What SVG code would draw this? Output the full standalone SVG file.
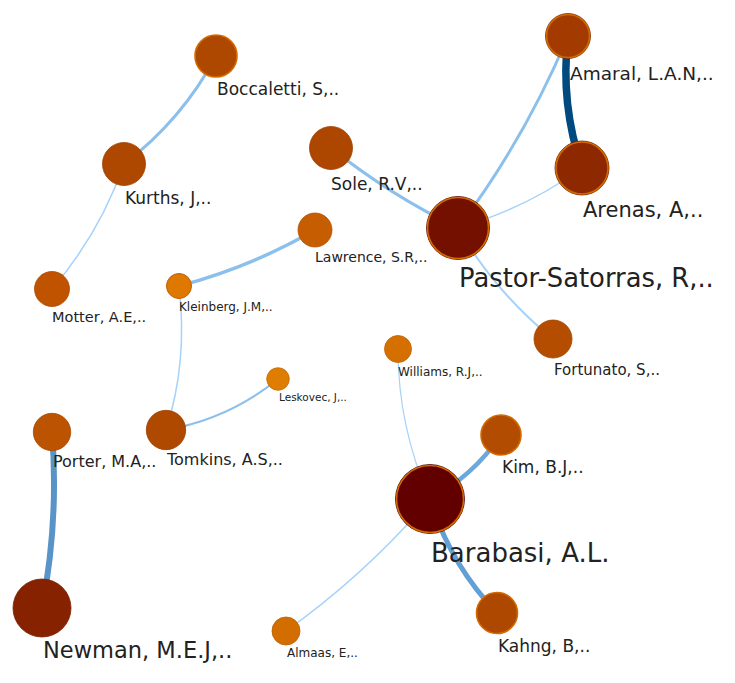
<svg xmlns="http://www.w3.org/2000/svg" width="735" height="683" viewBox="0 0 735 683">
<style>
.e{fill:none;stroke-linecap:round}
.l{stroke:#a6d2fa}
.m{stroke:#8cc0ec}
.n{stroke-width:0.8}
.r{stroke:#d26a00;stroke-width:1.6}
text{font-family:"DejaVu Sans","Liberation Sans",sans-serif;fill:#222}
</style>
<rect width="735" height="683" fill="#fff"/>
<g id="edges">
<path class="e m" stroke-width="3" d="M216,56 Q182,120 124,164"/>
<path class="e l" stroke-width="1.5" d="M124,164 Q100,233 52,289"/>
<path class="e m" stroke-width="3" d="M331,148 Q390,195 458,228"/>
<path class="e m" stroke-width="3.5" d="M315,230 Q251,267 179,286"/>
<path class="e l" stroke-width="1.5" d="M179,286 Q188,362 166,430"/>
<path class="e m" stroke-width="2.2" d="M166,430 Q229,419 278,379"/>
<path class="e m" stroke-width="3" d="M568,36 Q525,139 458,228"/>
<path class="e" stroke="#004a80" stroke-width="7.5" d="M568,36 Q560,104 582,168"/>
<path class="e l" stroke-width="1.5" d="M582,168 Q525,209 458,228"/>
<path class="e l" stroke-width="2" d="M458,228 Q495,292 553,339"/>
<path class="e l" stroke-width="1.2" d="M398,349 Q398,427 430,499"/>
<path class="e" stroke="#6aa8de" stroke-width="4.5" d="M430,499 Q473,476 501,435"/>
<path class="e" stroke="#629fd4" stroke-width="5" d="M430,499 Q450,564 497,613"/>
<path class="e l" stroke-width="1.5" d="M430,499 Q366,574 286,631"/>
<path class="e" stroke="#5894c8" stroke-width="6" d="M52,432 Q59,520 42,608"/>
</g>
<g id="Boccaletti"><circle cx="216" cy="56" r="21" fill="#ae4700" class="r"/><text x="217" y="95" font-size="17">Boccaletti, S,..</text></g>
<g id="Kurths"><circle cx="124" cy="164" r="21.5" fill="#ae4800" stroke="#a04000" class="n"/><text x="125" y="204" font-size="17">Kurths, J,..</text></g>
<g id="Sole"><circle cx="331" cy="148" r="21.5" fill="#ad4700" stroke="#a04000" class="n"/><text x="331" y="190" font-size="17">Sole, R.V,..</text></g>
<g id="Lawrence"><circle cx="315" cy="230" r="17" fill="#c65d00" stroke="#b85200" class="n"/><text x="315" y="262" font-size="14">Lawrence, S.R,..</text></g>
<g id="Kleinberg"><circle cx="179" cy="286" r="12.5" fill="#de7800" stroke="#c06000" stroke-width="1"/><text x="179" y="311" font-size="12">Kleinberg, J.M,..</text></g>
<g id="Motter"><circle cx="52" cy="289" r="17.5" fill="#c05300" stroke="#b04a00" class="n"/><text x="52" y="322" font-size="14.5">Motter, A.E,..</text></g>
<g id="Amaral"><circle cx="568" cy="36" r="22.5" fill="#a33a00" stroke="#7a2a00" stroke-width="0.8"/><circle cx="568" cy="36" r="21.5" fill="none" class="r"/><text x="570" y="80" font-size="18.5">Amaral, L.A.N,..</text></g>
<g id="Arenas"><circle cx="582" cy="168" r="27" fill="#8d2800" stroke="#6a1e00" stroke-width="0.8"/><circle cx="582" cy="168" r="26" fill="none" class="r"/><text x="583" y="217" font-size="21">Arenas, A,..</text></g>
<g id="Pastor-Satorras"><circle cx="458" cy="228" r="31.5" fill="#731000" stroke="#5a0c00" stroke-width="0.8"/><circle cx="458" cy="228" r="30.5" fill="none" class="r"/><text x="459" y="287" font-size="25.8">Pastor-Satorras, R,..</text></g>
<g id="Fortunato"><circle cx="553" cy="339" r="19" fill="#b44d00" stroke="#a04300" class="n"/><text x="554" y="375" font-size="15">Fortunato, S,..</text></g>
<g id="Williams"><circle cx="398" cy="349" r="13.5" fill="#d57000" stroke="#c06200" class="n"/><text x="398" y="376" font-size="12">Williams, R.J,..</text></g>
<g id="Kim"><circle cx="501" cy="435" r="20" fill="#b24c00" class="r"/><text x="502" y="473" font-size="17">Kim, B.J,..</text></g>
<g id="Barabasi"><circle cx="430" cy="499" r="34.5" fill="#620000" stroke="#4a0000" stroke-width="0.8"/><circle cx="430" cy="499" r="33.5" fill="none" class="r"/><text x="431" y="562" font-size="26">Barabasi, A.L.</text></g>
<g id="Kahng"><circle cx="497" cy="613" r="20.5" fill="#ae4800" class="r"/><text x="498" y="652" font-size="17">Kahng, B,..</text></g>
<g id="Leskovec"><circle cx="278" cy="379" r="11.3" fill="#df7d00" stroke="#c86a00" class="n"/><text x="279" y="401" font-size="10.5">Leskovec, J,..</text></g>
<g id="Porter"><circle cx="52" cy="432" r="18.7" fill="#bb5300" stroke="#a84a00" class="n"/><text x="53" y="467" font-size="16">Porter, M.A,..</text></g>
<g id="Tomkins"><circle cx="166" cy="430" r="19.7" fill="#af4900" stroke="#9c4000" class="n"/><text x="167" y="465" font-size="16">Tomkins, A.S,..</text></g>
<g id="Newman"><circle cx="42" cy="608" r="29" fill="#872200" stroke="#7a1e00" class="n"/><text x="43" y="658" font-size="22.5">Newman, M.E.J,..</text></g>
<g id="Almaas"><circle cx="286" cy="631" r="14" fill="#d36d00" stroke="#bc6000" class="n"/><text x="287" y="657" font-size="12">Almaas, E,..</text></g>
</svg>
